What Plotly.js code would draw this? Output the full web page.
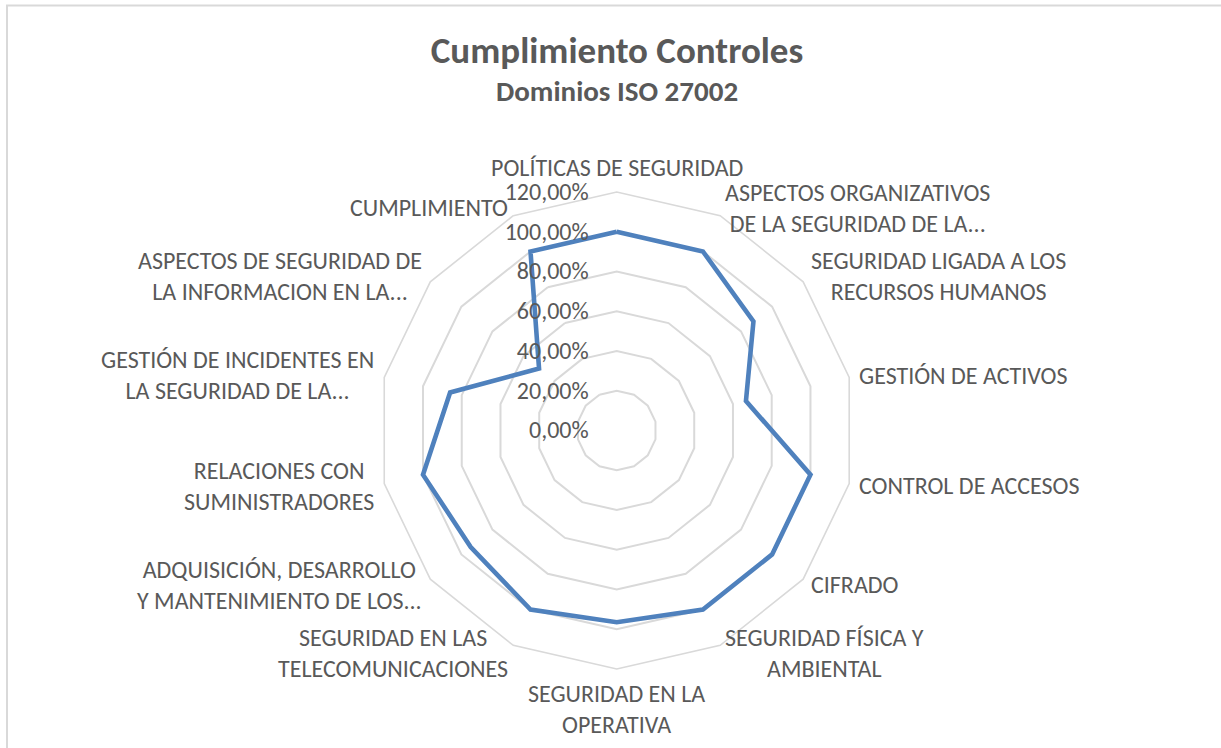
<!DOCTYPE html>
<html>
<head>
<meta charset="utf-8">
<script src="https://cdn.plot.ly/plotly-3.0.1.min.js"></script>
<style>html,body{margin:0;padding:0;background:#fff;}#chart{width:1221px;height:748px;}</style>
</head>
<body>
<div id="chart"></div>
<script>
const categories = [
  "POLÍTICAS DE SEGURIDAD",
  "ASPECTOS ORGANIZATIVOS<br>DE LA SEGURIDAD DE LA...",
  "SEGURIDAD LIGADA A LOS<br>RECURSOS HUMANOS",
  "GESTIÓN DE ACTIVOS",
  "CONTROL DE ACCESOS",
  "CIFRADO",
  "SEGURIDAD FÍSICA Y<br>AMBIENTAL",
  "SEGURIDAD EN LA<br>OPERATIVA",
  "SEGURIDAD EN LAS<br>TELECOMUNICACIONES",
  "ADQUISICIÓN, DESARROLLO<br>Y MANTENIMIENTO DE LOS...",
  "RELACIONES CON<br>SUMINISTRADORES",
  "GESTIÓN DE INCIDENTES EN<br>LA SEGURIDAD DE LA...",
  "ASPECTOS DE SEGURIDAD DE<br>LA INFORMACION EN LA...",
  "CUMPLIMIENTO"
];
const values = [1.00, 1.00, 0.88, 0.667, 1.00, 1.00, 1.00, 0.965, 1.00, 0.94, 1.00, 0.86, 0.50, 1.00];
const titleText = "Cumplimiento Controles";
const subtitleText = "Dominios ISO 27002";

const FONT = "Carlito, Lato, 'Open Sans', sans-serif";
const TXT = "#595959";
const W = 1221, H = 748;
const DOMAIN = {x: [0.3098, 0.7004], y: [0.1056, 0.7433]};

const trace = {
  type: "scatterpolar",
  r: values.concat([values[0]]),
  theta: categories.concat([categories[0]]),
  mode: "lines",
  line: {color: "#4f81bd", width: 4.6},
  hoverinfo: "r+theta",
  showlegend: false
};

// Category labels placed around the polar frame (Excel-style anchoring),
// positions derived from the polar domain geometry and category index.
const cx = (DOMAIN.x[0] + DOMAIN.x[1]) / 2;
const cy = (DOMAIN.y[0] + DOMAIN.y[1]) / 2;
const Rpx = Math.min((DOMAIN.x[1] - DOMAIN.x[0]) * W, (DOMAIN.y[1] - DOMAIN.y[0]) * H) / 2;
const labelPad = 9;
const catLabels = categories.map((c, i) => {
  const a = i * 2 * Math.PI / categories.length;
  const s = Math.sin(a), co = Math.cos(a);
  const d = Rpx + labelPad;
  return {
    text: c,
    xref: "paper", yref: "paper",
    x: cx + d * s / W, y: cy + d * co / H,
    xanchor: Math.abs(s) < 0.1 ? "center" : (s > 0 ? "left" : "right"),
    yanchor: co > 0.95 ? "bottom" : (co < -0.95 ? "top" : "middle"),
    align: "center",
    showarrow: false,
    borderpad: 0,
    font: {family: FONT, size: 24, color: TXT}
  };
});

const layout = {
  width: W, height: H,
  margin: {l: 0, r: 0, t: 0, b: 0},
  paper_bgcolor: "#ffffff",
  separators: ",.",
  font: {family: FONT, color: TXT, size: 24},
  title: {
    text: "<b>" + titleText + "</b>",
    font: {family: FONT, size: 37, color: TXT},
    x: 617/W, xanchor: "center",
    y: 1 - 50/H, yanchor: "middle", yref: "container"
  },
  annotations: [{
    text: "<b>" + subtitleText + "</b>",
    xref: "paper", yref: "paper",
    x: 617/W, y: 1 - 91/H, xanchor: "center", yanchor: "middle",
    showarrow: false,
    font: {family: FONT, size: 29, color: TXT}
  }].concat(catLabels),
  shapes: [{
    type: "rect", xref: "paper", yref: "paper",
    x0: 7/W, x1: 1.02, y0: -0.02, y1: 1 - 5.5/H,
    line: {color: "#d9d9d9", width: 2}, fillcolor: "rgba(0,0,0,0)"
  }],
  polar: {
    domain: DOMAIN,
    gridshape: "linear",
    bgcolor: "#ffffff",
    radialaxis: {
      range: [0, 1.2], dtick: 0.2, tick0: 0,
      tickformat: ".2%", ticksuffix: "\u2002\u2002",
      angle: 90, tickangle: 90, side: "counterclockwise",
      showline: false, ticks: "",
      gridcolor: "#d9d9d9", gridwidth: 1.6,
      tickfont: {family: FONT, size: 24, color: TXT}
    },
    angularaxis: {
      direction: "clockwise", rotation: 90,
      showgrid: false,
      showline: true, linecolor: "#d9d9d9", linewidth: 1.6,
      ticks: "", showticklabels: false
    }
  }
};

Plotly.newPlot("chart", [trace], layout, {displayModeBar: false, responsive: false});
</script>
</body>
</html>
